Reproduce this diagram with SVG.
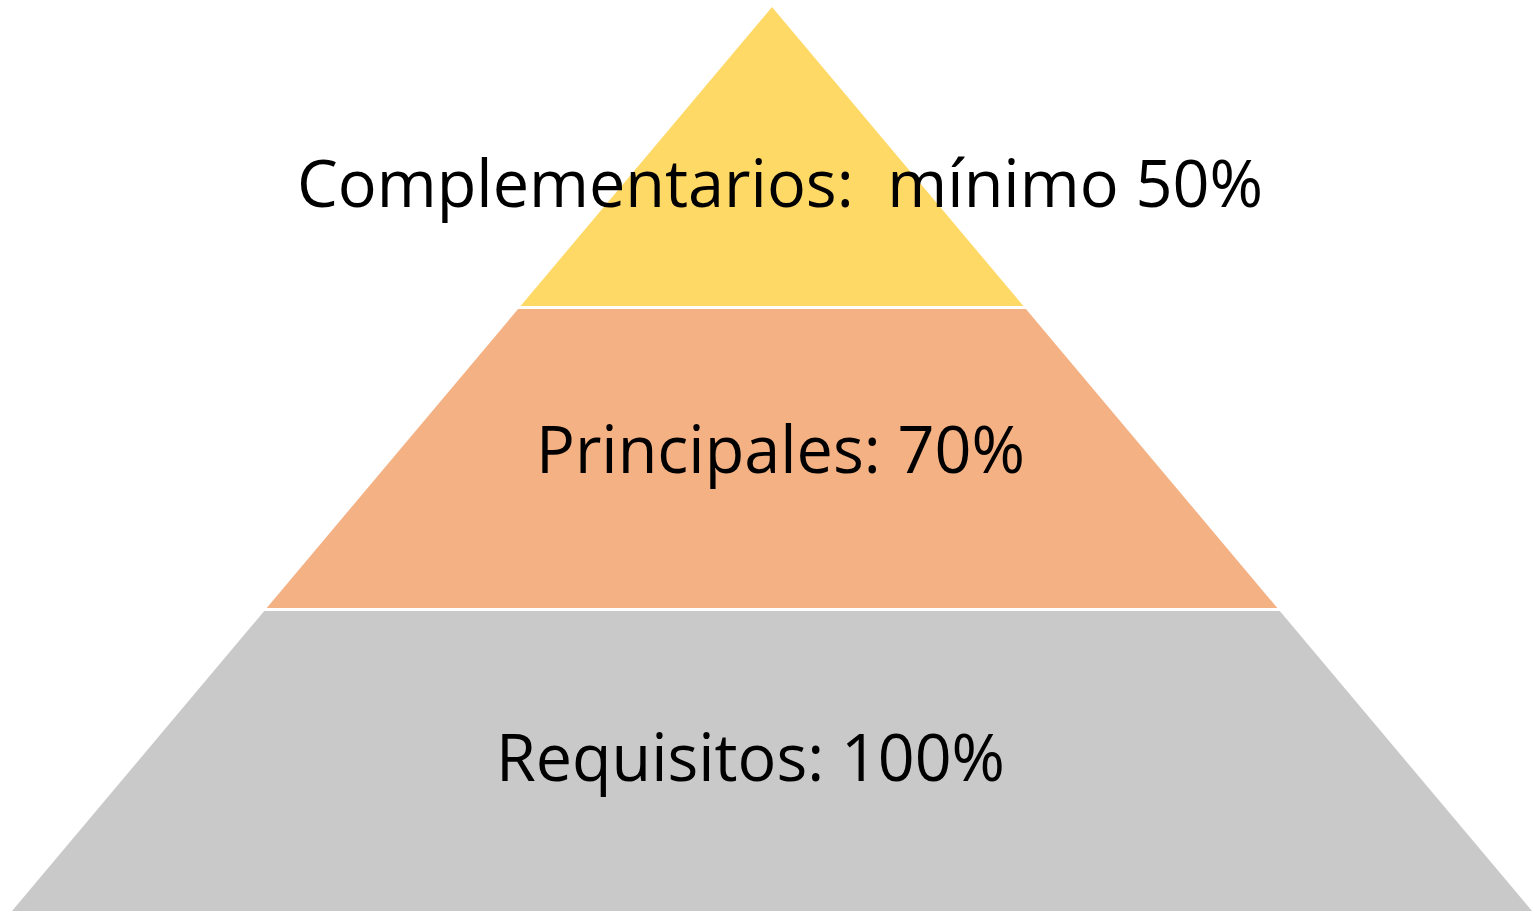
<svg xmlns="http://www.w3.org/2000/svg" width="1534" height="913" viewBox="0 0 1534 913">
<style>
.lbl{font-family:"Open Sans","Noto Sans","Liberation Sans",sans-serif;font-size:66px;fill:#000}
</style>
<rect width="1534" height="913" fill="#fff"/>
<g id="tier-requisitos">
<polygon points="264.2,611 1279.8,611 1532,911 12,911" fill="#C9C9C9"/>
</g>
<g id="tier-principales">
<polygon points="518.1,309 1025.9,309 1277.3,608 266.7,608" fill="#F4B183"/>
</g>
<g id="tier-complementarios">
<polygon points="772,7 1023.4,306 520.6,306" fill="#FFD966"/>
</g>
<g id="labels">
<text class="lbl" x="297" y="207" textLength="966" lengthAdjust="spacingAndGlyphs" xml:space="preserve">Complementarios:  mínimo 50%</text>
<text class="lbl" x="536" y="473" textLength="489" lengthAdjust="spacingAndGlyphs">Principales: 70%</text>
<text class="lbl" x="496" y="781" textLength="509" lengthAdjust="spacingAndGlyphs">Requisitos: 100%</text>
</g>
</svg>
